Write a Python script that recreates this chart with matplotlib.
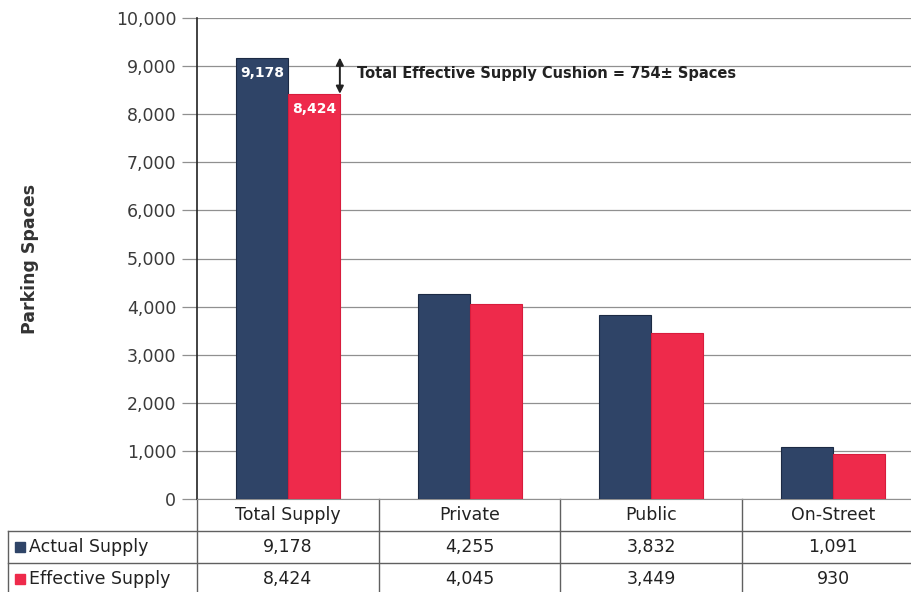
import numpy as np
import matplotlib
matplotlib.use("Agg")
import matplotlib.pyplot as plt

# du lieu doc tu hinh
categories = ["Total Supply", "Private", "Public", "On-Street"]
actual_supply = [9178, 4255, 3832, 1091]
effective_supply = [8424, 4045, 3449, 930]
series_names = ["Actual Supply", "Effective Supply"]
y_ticks = list(range(0, 10001, 1000))

navy = "#2f4467"
red = "#ee2a4b"

plt.rcParams["font.family"] = ["DejaVu Sans"]

fig = plt.figure(figsize=(9.12, 5.92), dpi=100)
ax = fig.add_axes([197 / 912, 1 - 499 / 592, 727 / 912, 481 / 592])

x = np.arange(len(categories))
w = 0.286
ax.bar(x - w / 2, actual_supply, w, color=navy, edgecolor="#1c2a44", linewidth=0.8, zorder=3)
ax.bar(x + w / 2, effective_supply, w, color=red, edgecolor="#d81c3c", linewidth=0.8, zorder=3)

ax.set_xlim(-0.5, len(categories) - 0.5)
ax.set_ylim(0, 10000)
ax.set_yticks(y_ticks)
ax.set_yticklabels([f"{v:,}" for v in y_ticks], fontsize=12.5, color="#3a3a3a")
ax.set_xticks([])
ax.grid(axis="y", color="#909090", linewidth=0.9, zorder=0)
ax.tick_params(axis="y", length=11, width=0.9, color="#909090", pad=4)
for s in ["top", "right"]:
    ax.spines[s].set_visible(False)
ax.spines["left"].set_color("#222222")
ax.spines["left"].set_linewidth(1.2)
ax.spines["bottom"].set_color("#909090")
ax.set_ylabel("Parking Spaces", fontsize=12.5, fontweight="bold", color="#333333")
ax.yaxis.set_label_coords(-0.218, 0.5)

# nhan gia tri tren cot Total Supply
ax.text(x[0] - w / 2, actual_supply[0] - 180, f"{actual_supply[0]:,}", color="white",
        fontsize=10, fontweight="bold", ha="center", va="top", zorder=4)
ax.text(x[0] + w / 2, effective_supply[0] - 180, f"{effective_supply[0]:,}", color="white",
        fontsize=10, fontweight="bold", ha="center", va="top", zorder=4)

# mui ten cushion
ax.annotate("", xy=(x[0] + w, effective_supply[0]), xytext=(x[0] + w, actual_supply[0]),
            arrowprops=dict(arrowstyle="<|-|>", color="#222222", lw=1.4, mutation_scale=11,
                            shrinkA=0, shrinkB=0), zorder=5)
cushion = actual_supply[0] - effective_supply[0]
ax.text(x[0] + 0.38, (actual_supply[0] + effective_supply[0]) / 2 + 40,
        f"Total Effective Supply Cushion = {cushion}\u00b1 Spaces",
        fontsize=10.5, fontweight="bold", color="#222222", ha="left", va="center")

# bang du lieu ben duoi
h = 32 / 481
tx = ax.get_xaxis_transform()
ta = ax.transAxes
line_kw = dict(color="#606060", linewidth=1.0, clip_on=False)
for b in np.arange(len(categories) + 1) - 0.5:
    ax.plot([b, b], [0, -3 * h], transform=tx, **line_kw)
left = -189 / 727
for k in [1, 2, 3]:
    ax.plot([left, 1.2], [-k * h, -k * h], transform=ta, **line_kw)
ax.plot([left, left], [-h, -3 * h], transform=ta, **line_kw)

for i, c in enumerate(categories):
    ax.text(x[i], -0.5 * h, c, transform=tx, ha="center", va="center", fontsize=12.5, color="#222222")
    ax.text(x[i], -1.5 * h, f"{actual_supply[i]:,}", transform=tx, ha="center", va="center",
            fontsize=12.5, color="#222222")
    ax.text(x[i], -2.5 * h, f"{effective_supply[i]:,}", transform=tx, ha="center", va="center",
            fontsize=12.5, color="#222222")

for k, (name, col) in enumerate(zip(series_names, [navy, red])):
    yy = -(k + 1.5) * h
    ax.plot([-177 / 727], [yy], marker="s", markersize=7, color=col, transform=ta, clip_on=False)
    ax.text(-168 / 727, yy, name, transform=ta, ha="left", va="center", fontsize=12.5, color="#222222")

fig.savefig("out.png", dpi=100)
